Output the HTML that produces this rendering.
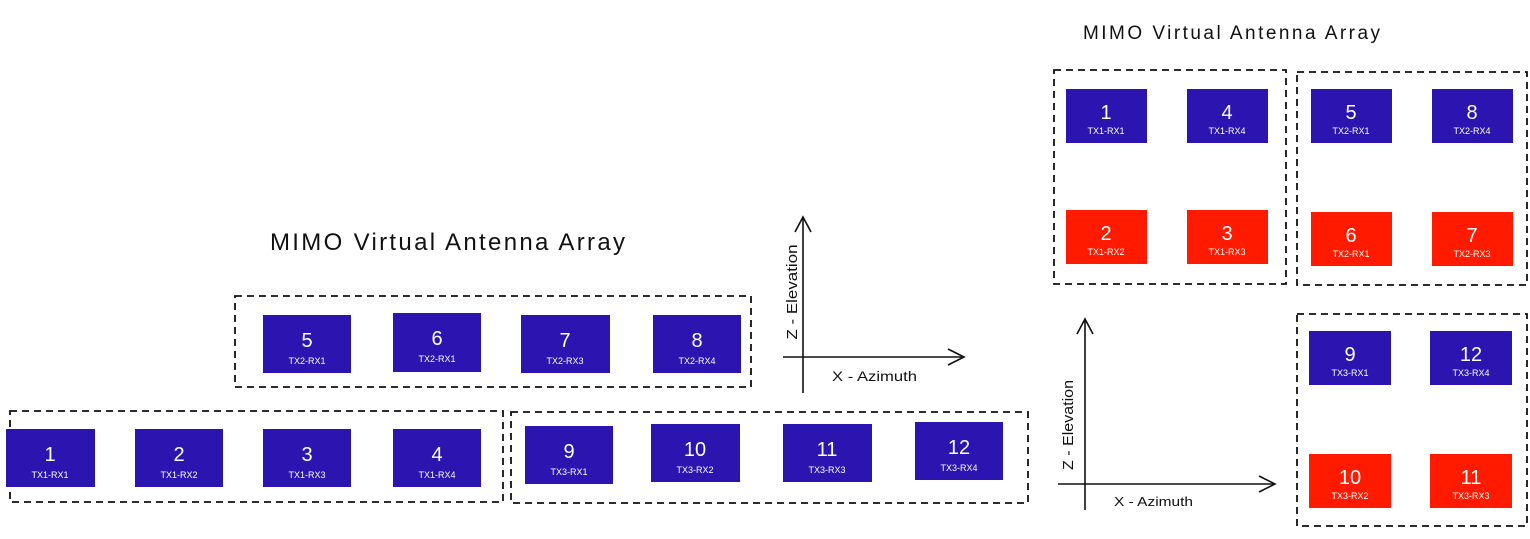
<!DOCTYPE html>
<html><head><meta charset="utf-8"><style>
html,body{margin:0;padding:0;background:#fff;width:1530px;height:539px;overflow:hidden}
svg{display:block}
text{font-family:"Liberation Sans",Arial,sans-serif}
.n{fill:#fff;font-size:20px;text-anchor:middle}
.l{fill:#fff;font-size:9px;text-anchor:middle}
.d{fill:none;stroke:#111;stroke-width:1.8;stroke-dasharray:7,5}
.ax{stroke:#111;stroke-width:1.6;fill:none}
</style></head><body>
<svg width="1530" height="539" viewBox="0 0 1530 539">
<!-- titles -->
<text x="270" y="250" font-size="24" fill="#111" textLength="355" lengthAdjust="spacing">MIMO Virtual Antenna Array</text>
<text x="1083" y="39" font-size="19" fill="#111" textLength="297" lengthAdjust="spacing">MIMO Virtual Antenna Array</text>

<!-- left dashed groups -->
<rect class="d" x="235" y="296" width="516" height="91"/>
<rect class="d" x="10" y="411" width="493" height="91"/>
<rect class="d" x="511" y="412" width="517" height="91"/>

<!-- right dashed groups -->
<rect class="d" x="1054" y="70" width="232" height="214"/>
<rect class="d" x="1297" y="72" width="230" height="213"/>
<rect class="d" x="1297" y="314" width="230" height="212"/>

<!-- left axes -->
<line class="ax" x1="803" y1="218" x2="803" y2="393"/>
<polyline class="ax" points="795,232 803,217 811,232"/>
<line class="ax" x1="783" y1="357" x2="964" y2="357"/>
<polyline class="ax" points="948,349 964,357 948,365"/>
<text transform="translate(797,292) rotate(-90)" font-size="15" fill="#111" text-anchor="middle" textLength="95" lengthAdjust="spacingAndGlyphs">Z - Elevation</text>
<text x="832" y="381" font-size="14" fill="#111" textLength="85" lengthAdjust="spacingAndGlyphs">X - Azimuth</text>

<!-- right axes -->
<line class="ax" x1="1085" y1="320" x2="1085" y2="510"/>
<polyline class="ax" points="1077,334 1085,319 1093,334"/>
<line class="ax" x1="1058" y1="484" x2="1275" y2="484"/>
<polyline class="ax" points="1259,476 1275,484 1259,492"/>
<text transform="translate(1073,425) rotate(-90)" font-size="15" fill="#111" text-anchor="middle" textLength="90" lengthAdjust="spacingAndGlyphs">Z - Elevation</text>
<text x="1114" y="506" font-size="13" fill="#111" textLength="79" lengthAdjust="spacingAndGlyphs">X - Azimuth</text>

<g fill="#2b14b0">
<rect x="263" y="315" width="88" height="58"/>
<rect x="393" y="313" width="88" height="59"/>
<rect x="521" y="315" width="89" height="58"/>
<rect x="653" y="315" width="88" height="58"/>
<rect x="6" y="429" width="89" height="58"/>
<rect x="135" y="429" width="88" height="58"/>
<rect x="263" y="429" width="88" height="58"/>
<rect x="393" y="429" width="88" height="58"/>
<rect x="525" y="426" width="88" height="58"/>
<rect x="651" y="424" width="89" height="58"/>
<rect x="783" y="424" width="89" height="58"/>
<rect x="915" y="422" width="88" height="58"/>
<rect x="1066" y="89" width="81" height="54"/>
<rect x="1187" y="89" width="81" height="54"/>
<rect x="1311" y="89" width="81" height="54"/>
<rect x="1432" y="89" width="81" height="54"/>
<rect x="1309" y="331" width="82" height="54"/>
<rect x="1430" y="331" width="82" height="54"/>
</g>
<g fill="#ff1a00">
<rect x="1066" y="210" width="81" height="54"/>
<rect x="1187" y="210" width="81" height="54"/>
<rect x="1311" y="212" width="81" height="54"/>
<rect x="1432" y="212" width="81" height="54"/>
<rect x="1309" y="454" width="82" height="54"/>
<rect x="1430" y="454" width="82" height="54"/>
</g>

<g>
<text class="n" x="307" y="347">5</text><text class="l" x="307" y="364">TX2-RX1</text>
<text class="n" x="437" y="345">6</text><text class="l" x="437" y="362">TX2-RX1</text>
<text class="n" x="565" y="347">7</text><text class="l" x="565" y="364">TX2-RX3</text>
<text class="n" x="697" y="347">8</text><text class="l" x="697" y="364">TX2-RX4</text>
<text class="n" x="50" y="461">1</text><text class="l" x="50" y="478">TX1-RX1</text>
<text class="n" x="179" y="461">2</text><text class="l" x="179" y="478">TX1-RX2</text>
<text class="n" x="307" y="461">3</text><text class="l" x="307" y="478">TX1-RX3</text>
<text class="n" x="437" y="461">4</text><text class="l" x="437" y="478">TX1-RX4</text>
<text class="n" x="569" y="458">9</text><text class="l" x="569" y="475">TX3-RX1</text>
<text class="n" x="695" y="456">10</text><text class="l" x="695" y="473">TX3-RX2</text>
<text class="n" x="827" y="456">11</text><text class="l" x="827" y="473">TX3-RX3</text>
<text class="n" x="959" y="454">12</text><text class="l" x="959" y="471">TX3-RX4</text>

<text class="n" x="1106" y="119">1</text><text class="l" x="1106" y="134">TX1-RX1</text>
<text class="n" x="1227" y="119">4</text><text class="l" x="1227" y="134">TX1-RX4</text>
<text class="n" x="1351" y="119">5</text><text class="l" x="1351" y="134">TX2-RX1</text>
<text class="n" x="1472" y="119">8</text><text class="l" x="1472" y="134">TX2-RX4</text>
<text class="n" x="1106" y="240">2</text><text class="l" x="1106" y="255">TX1-RX2</text>
<text class="n" x="1227" y="240">3</text><text class="l" x="1227" y="255">TX1-RX3</text>
<text class="n" x="1351" y="242">6</text><text class="l" x="1351" y="257">TX2-RX1</text>
<text class="n" x="1472" y="242">7</text><text class="l" x="1472" y="257">TX2-RX3</text>
<text class="n" x="1350" y="361">9</text><text class="l" x="1350" y="376">TX3-RX1</text>
<text class="n" x="1471" y="361">12</text><text class="l" x="1471" y="376">TX3-RX4</text>
<text class="n" x="1350" y="484">10</text><text class="l" x="1350" y="499">TX3-RX2</text>
<text class="n" x="1471" y="484">11</text><text class="l" x="1471" y="499">TX3-RX3</text>
</g>
</svg>
</body></html>
